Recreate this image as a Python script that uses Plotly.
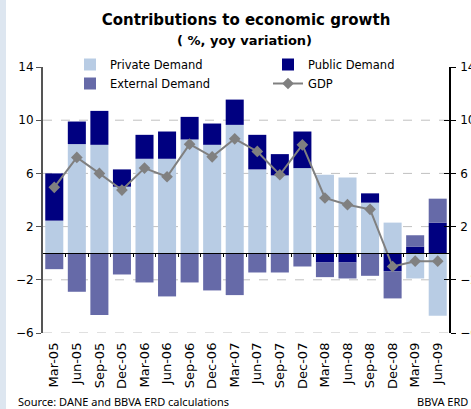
import plotly.graph_objects as go

categories = ["Mar-05", "Jun-05", "Sep-05", "Dec-05", "Mar-06", "Jun-06", "Sep-06", "Dec-06",
              "Mar-07", "Jun-07", "Sep-07", "Dec-07", "Mar-08", "Jun-08", "Sep-08", "Dec-08",
              "Mar-09", "Jun-09"]
private_demand = [2.45, 8.2, 8.15, 5.0, 7.1, 7.1, 8.55, 8.15, 9.65, 6.3, 5.85, 6.4, 5.9, 5.7, 3.8, 2.3, -1.9, -4.7]
public_demand = [3.55, 1.7, 2.55, 1.3, 1.8, 2.05, 1.7, 1.6, 1.9, 2.6, 1.6, 2.75, -0.7, -0.7, 0.7, -1.35, 0.5, 2.3]
external_demand = [-1.2, -2.9, -4.65, -1.6, -2.2, -3.25, -2.2, -2.8, -3.15, -1.45, -1.45, -1.0, -1.1, -1.2, -1.7, -2.05, 0.85, 1.8]
gdp = [4.95, 7.2, 6.0, 4.75, 6.4, 5.75, 8.2, 7.25, 8.6, 7.65, 5.9, 8.15, 4.15, 3.65, 3.3, -1.0, -0.6, -0.6]

y_ticks = [14, 10, 6, 2, -2, -6]
grid_values = [10, 6, 2, -2, -6]
y_range = [-6, 14]

FONT = "DejaVu Sans, sans-serif"
FOOT_FONT = "Noto Sans, DejaVu Sans, sans-serif"
W, H = 471, 409
ML, MR, MT, MB = 43, 22, 67, 76
PW, PH = W - ML - MR, H - MT - MB

fig = go.Figure()
fig.add_trace(go.Bar(x=categories, y=private_demand, name="Private Demand",
                     marker=dict(color="#b8cce4", line=dict(width=0))))
fig.add_trace(go.Bar(x=categories, y=public_demand, name="Public Demand",
                     marker=dict(color="#000080", line=dict(width=0))))
fig.add_trace(go.Bar(x=categories, y=external_demand, name="External Demand",
                     marker=dict(color="#666aa8", line=dict(width=0))))
fig.add_trace(go.Scatter(x=categories, y=gdp, name="GDP", mode="lines+markers", yaxis="y2",
                         line=dict(color="#808080", width=2),
                         marker=dict(symbol="diamond", size=9, color="#808080")))
# helper empty traces so the extra axes are drawn
fig.add_trace(go.Scatter(x=[], y=[], xaxis="x2", yaxis="y", showlegend=False, hoverinfo="skip"))
fig.add_trace(go.Scatter(x=[], y=[], xaxis="x", yaxis="y3", showlegend=False, hoverinfo="skip"))

n = len(categories)
shapes = []
for g in grid_values:
    shapes.append(dict(type="line", xref="paper", yref="y", x0=0, x1=1, y0=g, y1=g,
                       line=dict(color="#c0c0c0", width=1, dash="dash"), layer="below"))
# left light strip of the page
shapes.append(dict(type="rect", xref="paper", yref="paper",
                   x0=-ML / PW, x1=(6 - ML) / PW, y0=-MB / PH, y1=(H - MB) / PH,
                   fillcolor="#dde6f0", line=dict(width=0), layer="below"))


def py(pix):
    """pixel row (from top of page) -> paper y"""
    return (H - MB - pix) / PH


def px(pix):
    return (pix - ML) / PW


fig.update_layout(
    width=W, height=H,
    margin=dict(l=ML, r=MR, t=MT, b=MB, pad=0, autoexpand=False),
    paper_bgcolor="white", plot_bgcolor="white",
    barmode="relative", bargap=0.2,
    font=dict(family=FONT, size=12, color="#000000"),
    title=dict(text="<b>Contributions to economic growth</b>", x=0.5, xref="paper", xanchor="center",
               y=1 - 20 / H, yref="container", yanchor="middle",
               font=dict(family=FONT, size=15, color="#000000")),
    legend=dict(orientation="h", xref="container", yref="container",
                x=70 / W, y=1 - 50 / H, xanchor="left", yanchor="top",
                entrywidth=153, entrywidthmode="pixels",
                font=dict(family=FONT, size=11.5, color="#000000"),
                bgcolor="rgba(0,0,0,0)", itemclick=False, tracegroupgap=0),
    xaxis=dict(type="category", range=[-0.5, n - 0.5], showgrid=False, showline=False,
               ticks="", tickangle=-90, ticklabelstandoff=6,
               tickfont=dict(family=FONT, size=13, color="#000000")),
    xaxis2=dict(overlaying="x", anchor="free", position=6 / 20, range=[-0.5, n - 0.5],
                showgrid=False, showline=True, linecolor="#000000", linewidth=1,
                ticks="outside", ticklen=3, tickcolor="#000000",
                tickvals=[i + 0.5 for i in range(n - 1)], showticklabels=False, zeroline=False),
    yaxis=dict(range=y_range, tickvals=y_ticks, showgrid=False, zeroline=False,
               showline=True, linecolor="#555555", linewidth=2, ticks="outside", ticklen=5,
               tickcolor="#555555", tickfont=dict(family=FONT, size=12, color="#000000")),
    yaxis2=dict(range=y_range, tickvals=y_ticks, overlaying="y", side="right", showgrid=False,
                zeroline=False, showline=True, linecolor="#000000", linewidth=1.5,
                ticks="outside", ticklen=5, tickcolor="#000000", ticklabelstandoff=2,
                tickfont=dict(family=FONT, size=12, color="#000000")),
    yaxis3=dict(range=y_range, tickvals=y_ticks, overlaying="y", side="right", anchor="free",
                position=1, showgrid=False, zeroline=False, showline=False,
                ticks="inside", ticklen=5, tickcolor="#000000", showticklabels=False),
    shapes=shapes,
    annotations=[
        dict(text="<b>( %, yoy variation)</b>", xref="paper", yref="paper",
             x=px(244), y=py(40), xanchor="center", yanchor="middle", showarrow=False,
             font=dict(family=FONT, size=13, color="#000000")),
        dict(text="Source: DANE and BBVA ERD calculations", xref="paper", yref="paper",
             x=px(16), y=py(401), xanchor="left", yanchor="middle", showarrow=False,
             font=dict(family=FOOT_FONT, size=11, color="#000000")),
        dict(text="BBVA ERD", xref="paper", yref="paper",
             x=px(W - 1), y=py(401), xanchor="right", yanchor="middle", showarrow=False,
             font=dict(family=FOOT_FONT, size=11, color="#000000")),
    ],
)

fig.write_html("out.html")
